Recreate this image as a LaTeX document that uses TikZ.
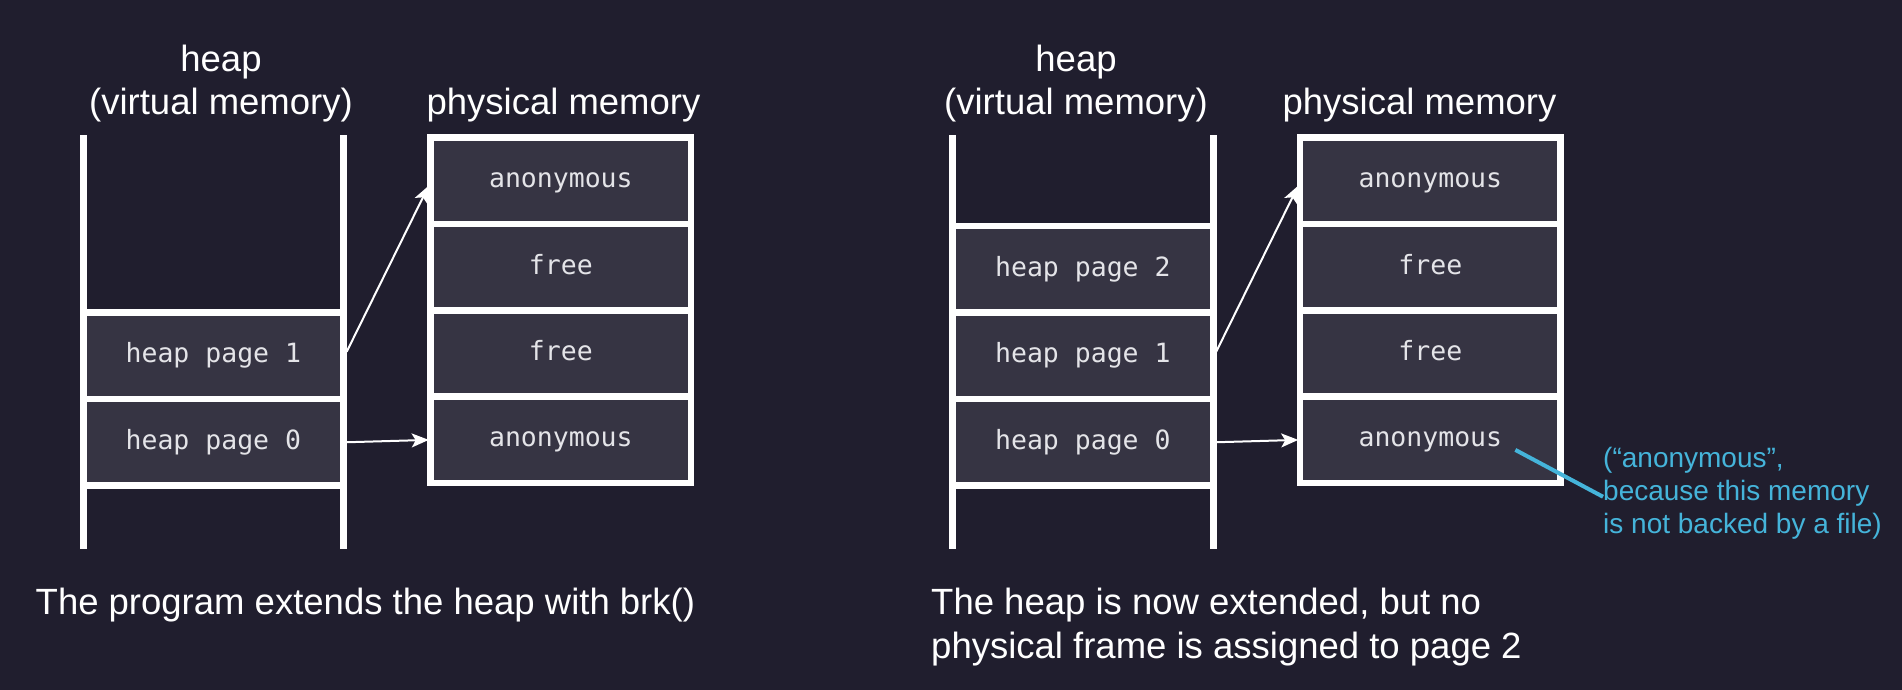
\documentclass[tikz,border=0pt]{standalone}
\usepackage{fontspec}
\setmainfont{Liberation Sans}
\newfontfamily\monofont{DejaVu Sans Mono}
\usetikzlibrary{arrows.meta}
\definecolor{bg}{HTML}{201E2E}
\definecolor{cellfill}{HTML}{363443}
\definecolor{celltext}{HTML}{E4E4E8}
\definecolor{notecol}{HTML}{45B4DA}
\begin{document}
\begin{tikzpicture}[x=1pt,y=-1pt,
  vcell/.style={draw=white, line width=6.5pt, fill=cellfill, minimum width=260.7pt, minimum height=86.5pt, inner sep=0pt, outer sep=0pt, text height=20.1pt, text depth=6.1pt, text=celltext, font=\monofont\fontsize{26.5}{30}\selectfont},
  pcell/.style={vcell, minimum width=260.3pt, minimum height=86.4pt},
  rail/.style={draw=white, line width=7pt},
  title/.style={text=white, font=\fontsize{36.5}{43}\selectfont, inner sep=0pt, align=center},
  caption/.style={text=white, font=\fontsize{36.5}{44}\selectfont, inner sep=0pt, align=left},
  arr/.style={draw=white, line width=2pt, -{Stealth[length=17pt,width=14pt,inset=4pt]}},
  notetext/.style={text=notecol, font=\fontsize{28}{33}\selectfont, inner sep=0pt, align=left},
  noteline/.style={draw=notecol, line width=4pt}
]
\fill[bg] (0,0) rectangle (1902,690);
\useasboundingbox (0,0) rectangle (1902,690);

% ---------- left diagram ----------
\node[title, anchor=north] (Lheap) at (221,45.2) {heap\\(virtual memory)};
\node[title, anchor=base] (Lphys) at (563.5,114.5) {physical memory};

\node[vcell] (L1) at (213.35,355.75) {heap page 1};
\node[vcell] (L0) at (213.35,442.25) {heap page 0};
\draw[rail] (83,135) -- (83,549.3);
\draw[rail] (343.7,135) -- (343.7,549.3);

\node[pcell] (LP3) at (560.85,180.7) {anonymous};
\node[pcell] (LP2) at (560.85,267.1) {free};
\node[pcell] (LP1) at (560.85,353.5) {free};
\node[pcell] (LP0) at (560.85,439.9) {anonymous};

\draw[arr] ([xshift=3pt,yshift=4pt]L1.east) -- ([xshift=-2pt,yshift=-5pt]LP3.west);
\draw[arr] ([xshift=3pt]L0.east) -- ([xshift=-2pt]LP0.west);

\node[caption, anchor=base west] (Lcap) at (35.5,614) {The program extends the heap with brk()};

% ---------- right diagram ----------
\node[title, anchor=north] (Rheap) at (1076,45.2) {heap\\(virtual memory)};
\node[title, anchor=base] (Rphys) at (1419.5,114.5) {physical memory};

\node[vcell] (R2) at (1082.85,269.25) {heap page 2};
\node[vcell] (R1) at (1082.85,355.75) {heap page 1};
\node[vcell] (R0) at (1082.85,442.25) {heap page 0};
\draw[rail] (952.5,135) -- (952.5,549.3);
\draw[rail] (1213.2,135) -- (1213.2,549.3);

\node[pcell] (RP3) at (1430.35,180.7) {anonymous};
\node[pcell] (RP2) at (1430.35,267.1) {free};
\node[pcell] (RP1) at (1430.35,353.5) {free};
\node[pcell] (RP0) at (1430.35,439.9) {anonymous};

\draw[arr] ([xshift=3pt,yshift=4pt]R1.east) -- ([xshift=-2pt,yshift=-5pt]RP3.west);
\draw[arr] ([xshift=3pt]R0.east) -- ([xshift=-2pt]RP0.west);

\node[notetext, anchor=north west] (note) at (1603,447) {(“anonymous”,\\because this memory\\is not backed by a file)};
\coordinate (cstart) at ([xshift=85pt,yshift=-10pt]RP0.center);
\draw[noteline] (cstart) -- ([yshift=-3.5pt]note.west);

\node[caption, anchor=north west] (Rcap) at (931,587.7) {The heap is now extended, but no\\physical frame is assigned to page 2};
\end{tikzpicture}
\end{document}
